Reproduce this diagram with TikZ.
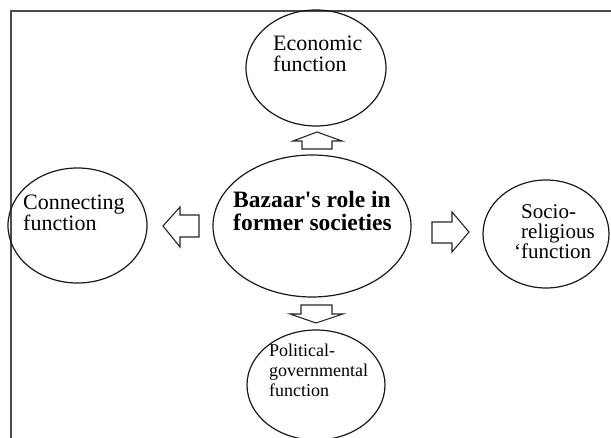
\documentclass[tikz,border=0pt]{standalone}
\usepackage{fontspec}
\setmainfont{Liberation Serif}
\usetikzlibrary{shapes.geometric}
\begin{document}
\begin{tikzpicture}[x=1pt,y=-1pt,
  ell/.style={draw=black!90, line width=1.2pt, ellipse, inner sep=0pt},
  blockarrow/.style={draw=black!85, line width=1.1pt, line join=miter, fill=white},
  frameline/.style={draw=black!70, line width=1.8pt},
  lbl/.style={anchor=base west, inner sep=0pt, text=black},
  fnt/.style={font=\fontsize{22}{21}\selectfont},
  fntsm/.style={font=\fontsize{18}{20}\selectfont},
  fntbf/.style={font=\fontsize{23.5}{22.5}\selectfont\bfseries},
]
\useasboundingbox (0,0) rectangle (611,438);
\begin{scope}
\clip (0,0) rectangle (611,438);
\draw[frameline] (612,11) -- (11,11) -- (11,440);

% ellipses
\node[ell, minimum width=140pt, minimum height=116pt] (econ) at (316,68) {};
\node[ell, minimum width=198pt, minimum height=142pt] (centre) at (312,226) {};
\node[ell, minimum width=139pt, minimum height=115pt] (conn) at (77.5,225.5) {};
\node[ell, minimum width=126pt, minimum height=108pt] (socio) at (546,234) {};
\node[ell, minimum width=138pt, minimum height=110pt] (pol) at (316,385) {};

% labels
\node[lbl, fnt] (econt) at (273,51) {\vtop{\hbox{Economic}\hbox{function}}};
\node[lbl, fntbf] (centret) at (233,208) {\vtop{\hbox{Bazaar\textquotesingle s role in}\hbox{former societies}}};
\node[lbl, fnt] (connt) at (23,210) {\vtop{\hbox{Connecting}\hbox{function}}};
\node[lbl, font=\fontsize{21}{20}\selectfont] (sociot) at (521,219) {\vtop{\hbox{Socio-}\hbox{religious}\hbox{\llap{‘}function}}};
\node[lbl, fntsm] (polt) at (269,357) {\vtop{\hbox{Political-}\hbox{governmental}\hbox{function}}};

% block arrows
\coordinate (upTip) at (317,132);
\draw[blockarrow] (upTip) -- (342,141) -- (332,141) -- (332,149) -- (302,149) -- (302,141) -- (293,141) -- cycle;
\coordinate (downTip) at (316,323);
\draw[blockarrow] (downTip) -- (343,314) -- (332,314) -- (332,305) -- (301,305) -- (301,314) -- (290,314) -- cycle;
\coordinate (leftTip) at (163,226);
\draw[blockarrow] (leftTip) -- (180,207) -- (180,215) -- (199,215) -- (199,237) -- (180,237) -- (180,247) -- cycle;
\coordinate (rightTip) at (469,232);
\draw[blockarrow] (rightTip) -- (452,212) -- (452,222) -- (432,222) -- (432,243) -- (452,243) -- (452,252) -- cycle;
\end{scope}
\end{tikzpicture}
\end{document}
